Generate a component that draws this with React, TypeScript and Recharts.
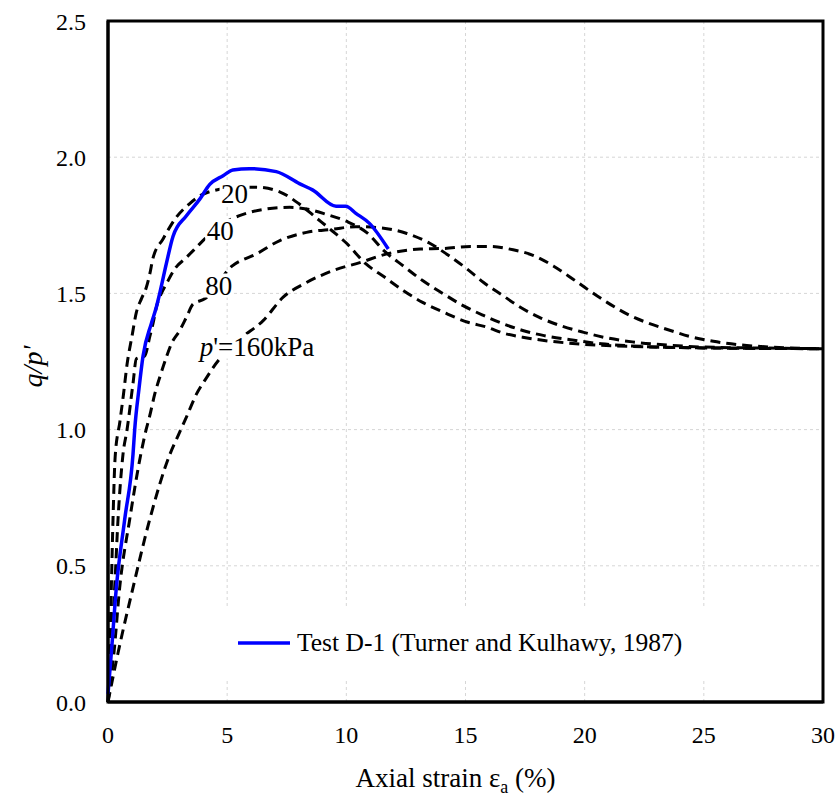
import React from 'react';
import {
  LineChart,
  Line,
  XAxis,
  YAxis,
  CartesianGrid,
  Legend,
  ReferenceArea,
  ReferenceDot,
} from 'recharts';

// axis ticks
const xTicks = [0, 5, 10, 15, 20, 25, 30];
const yTicks = [0, 0.5, 1.0, 1.5, 2.0, 2.5];

// Test D-1 (Turner and Kulhawy, 1987)
const testStrain = [0, 0.14, 0.35, 0.7, 1.05, 1.12, 1.3, 1.47, 1.82, 2.03, 2.17, 2.45, 2.73, 3.29, 3.85, 4.27, 4.83, 5.24, 5.94, 7.06, 8.03, 8.58, 9.57, 9.98, 10.4, 10.96, 11.76];
const testQ = [0.03, 0.18, 0.42, 0.67, 0.91, 1.0, 1.15, 1.27, 1.39, 1.45, 1.5, 1.61, 1.71, 1.785, 1.846, 1.9, 1.932, 1.953, 1.958, 1.947, 1.903, 1.88, 1.82, 1.82, 1.794, 1.758, 1.663];

// model, p' = 20 kPa
const strain20 = [0, 0.07, 0.14, 0.21, 0.3, 0.5, 0.65, 0.8, 1.0, 1.19, 1.4, 1.6, 1.75, 1.89, 2.31, 2.87, 3.43, 3.85, 4.41, 5.2, 6.2, 7.2, 8.0, 8.7, 9.4, 10.0, 10.8, 11.6, 12.4, 13.2, 14.1, 15.1, 15.9, 16.6, 17.4, 18.5, 20, 22, 25, 30];
const q20 = [0, 0.18, 0.42, 0.67, 0.9, 1.03, 1.13, 1.24, 1.34, 1.43, 1.48, 1.52, 1.57, 1.63, 1.7, 1.78, 1.83, 1.858, 1.877, 1.886, 1.89, 1.873, 1.83, 1.78, 1.73, 1.685, 1.61, 1.56, 1.51, 1.467, 1.43, 1.394, 1.376, 1.354, 1.339, 1.325, 1.313, 1.305, 1.3, 1.297];

// model, p' = 40 kPa
const strain40 = [0, 0.12, 0.28, 0.42, 0.63, 0.8, 1.05, 1.19, 1.54, 1.75, 1.89, 2.03, 2.24, 2.45, 2.8, 3.29, 3.71, 4.06, 4.9, 5.67, 6.65, 7.63, 8.33, 9.17, 10.0, 10.9, 11.6, 12.4, 13.2, 14.08, 14.9, 15.76, 16.6, 17.4, 18.3, 19.4, 20.7, 22.5, 25, 30];
const q40 = [0, 0.18, 0.42, 0.67, 0.91, 1.0, 1.17, 1.26, 1.27, 1.34, 1.39, 1.45, 1.5, 1.535, 1.59, 1.632, 1.669, 1.7, 1.76, 1.79, 1.81, 1.816, 1.81, 1.79, 1.765, 1.72, 1.655, 1.6, 1.547, 1.498, 1.455, 1.419, 1.388, 1.364, 1.345, 1.33, 1.315, 1.305, 1.3, 1.297];

// model, p' = 80 kPa
const strain80 = [0, 0.25, 0.49, 0.91, 1.4, 1.6, 1.75, 1.96, 2.2, 2.45, 2.66, 3.01, 3.29, 3.57, 4.06, 5.2, 6.23, 7.21, 8.33, 9.45, 10.4, 11.28, 12.54, 13.5, 14.2, 15.06, 15.76, 16.6, 17.3, 18.1, 18.97, 19.96, 20.8, 22, 23.5, 25, 27, 30];
const q80 = [0, 0.18, 0.42, 0.67, 0.92, 1.0, 1.05, 1.13, 1.2, 1.266, 1.315, 1.364, 1.412, 1.461, 1.48, 1.6, 1.645, 1.694, 1.724, 1.736, 1.745, 1.742, 1.72, 1.684, 1.645, 1.59, 1.54, 1.49, 1.449, 1.412, 1.382, 1.357, 1.339, 1.322, 1.31, 1.303, 1.3, 1.297];

// model, p' = 160 kPa
const strain160 = [0, 0.42, 1.05, 1.75, 2.6, 2.9, 3.29, 3.71, 4.13, 4.69, 4.97, 5.5, 6.51, 7.35, 8.33, 9.45, 10.6, 11.7, 13.1, 14.08, 15.2, 16.04, 17.0, 17.86, 18.7, 19.5, 20.2, 20.94, 21.9, 22.76, 23.6, 24.4, 25.4, 26.4, 27.4, 28.5, 30];
const q160 = [0, 0.18, 0.42, 0.67, 0.91, 0.97, 1.046, 1.13, 1.19, 1.26, 1.284, 1.33, 1.4, 1.486, 1.54, 1.584, 1.614, 1.645, 1.663, 1.665, 1.672, 1.672, 1.66, 1.639, 1.6, 1.553, 1.51, 1.467, 1.419, 1.388, 1.364, 1.342, 1.324, 1.312, 1.305, 1.3, 1.297];

const toPoints = (xs: number[], ys: number[]) => xs.map((x, i) => ({ x, y: ys[i] }));

const FONT = "'Liberation Serif', 'Times New Roman', serif";

const XTick = (props: any) => {
  const { x, y, payload } = props;
  return (
    <text x={x} y={y} dy="0.71em" textAnchor="middle" fontFamily={FONT} fontSize={24} fill="#000">
      {payload.value}
    </text>
  );
};

const YTick = (props: any) => {
  const { x, y, payload } = props;
  return (
    <text x={x} y={y} dy="0.355em" textAnchor="end" fontFamily={FONT} fontSize={24} fill="#000">
      {Number(payload.value).toFixed(1)}
    </text>
  );
};

const XTitle = (props: any) => {
  const { viewBox } = props;
  const cx = viewBox.x + viewBox.width / 2 - 10;
  return (
    <text x={cx} y={viewBox.y + 85} textAnchor="middle" fontFamily={FONT} fontSize={27} fill="#000">
      Axial strain ε
      <tspan fontSize={18} dy={6}>a</tspan>
      <tspan dy={-6}> (%)</tspan>
    </text>
  );
};

const YTitle = (props: any) => {
  const { viewBox } = props;
  const cx = 32;
  const cy = viewBox.y + viewBox.height / 2 + 5;
  return (
    <text
      x={cx}
      y={cy}
      transform={`rotate(-90, ${cx}, ${cy})`}
      textAnchor="middle"
      dominantBaseline="central"
      fontFamily={FONT}
      fontSize={28}
      fontStyle="italic"
      fill="#000"
    >
      q/p'
    </text>
  );
};

// white box + text placed on a data point
const tag = (text: string, w: number) => (props: any) => {
  const { viewBox } = props;
  const cx = viewBox.x + viewBox.width / 2;
  const cy = viewBox.y + viewBox.height / 2;
  return (
    <g>
      <rect x={cx - w / 2} y={cy - 12} width={w} height={24} fill="#fff" />
      <text x={cx} y={cy} textAnchor="middle" dominantBaseline="central" fontFamily={FONT} fontSize={27} fill="#000">
        {text}
      </text>
    </g>
  );
};

const pTag = (props: any) => {
  const { viewBox } = props;
  const x = viewBox.x;
  const cy = viewBox.y;
  return (
    <g>
      <rect x={x - 2} y={cy - 12} width={124} height={24} fill="#fff" />
      <text x={x} y={cy} dominantBaseline="central" fontFamily={FONT} fontSize={27} fill="#000">
        <tspan fontStyle="italic">p</tspan>'=160kPa
      </text>
    </g>
  );
};

const renderLegend = () => (
  <div
    style={{
      display: 'flex',
      alignItems: 'center',
      height: '100%',
      paddingLeft: 16,
      fontFamily: FONT,
      fontSize: 25.5,
      color: '#000',
    }}
  >
    <svg width={52} height={6} style={{ marginRight: 7 }}>
      <line x1={0} y1={3} x2={52} y2={3} stroke="#0000ff" strokeWidth={3.5} />
    </svg>
    <span>Test D-1 (Turner and Kulhawy, 1987)</span>
  </div>
);

const dashed = { stroke: '#000', strokeWidth: 3, strokeDasharray: '10 6' };

export default function App() {
  return (
    <div style={{ width: 840, height: 798, background: '#fff', fontFamily: FONT }}>
      <style>{'body{margin:0}'}</style>
      <LineChart width={840} height={798} margin={{ top: 21, right: 17, bottom: 0, left: 0 }}>
        <CartesianGrid strokeDasharray="3 3" stroke="#d6d6d6" />
        <XAxis
          type="number"
          dataKey="x"
          domain={[0, 30]}
          ticks={xTicks}
          height={96}
          tickSize={0}
          tickMargin={24}
          axisLine={{ stroke: '#000', strokeWidth: 3 }}
          tick={<XTick />}
          label={{ content: XTitle }}
        />
        <YAxis
          type="number"
          domain={[0, 2.5]}
          ticks={yTicks}
          width={108}
          tickSize={0}
          tickMargin={22}
          axisLine={{ stroke: '#000', strokeWidth: 3 }}
          tick={<YTick />}
          label={{ content: YTitle }}
        />
        <ReferenceArea x1={0} x2={30} y1={0} y2={2.5} fill="none" stroke="#000" strokeWidth={3} />
        <Legend
          layout="vertical"
          align="center"
          verticalAlign="middle"
          wrapperStyle={{ top: 608, left: 222, width: 490, height: 70, background: '#fff' }}
          content={renderLegend}
        />
        <Line data={toPoints(strain160, q160)} dataKey="y" type="monotone" dot={false} {...dashed} isAnimationActive={false} legendType="none" />
        <Line data={toPoints(strain80, q80)} dataKey="y" type="monotone" dot={false} {...dashed} isAnimationActive={false} legendType="none" />
        <Line data={toPoints(strain40, q40)} dataKey="y" type="monotone" dot={false} {...dashed} isAnimationActive={false} legendType="none" />
        <Line data={toPoints(strain20, q20)} dataKey="y" type="monotone" dot={false} {...dashed} isAnimationActive={false} legendType="none" />
        <Line
          data={toPoints(testStrain, testQ)}
          dataKey="y"
          name="Test D-1 (Turner and Kulhawy, 1987)"
          type="monotone"
          dot={false}
          stroke="#0000ff"
          strokeWidth={3.5}
          isAnimationActive={false}
        />
        <ReferenceDot x={5.31} y={1.866} r={0} stroke="none" fill="none" label={tag('20', 30)} />
        <ReferenceDot x={4.71} y={1.73} r={0} stroke="none" fill="none" label={tag('40', 30)} />
        <ReferenceDot x={4.65} y={1.529} r={0} stroke="none" fill="none" label={tag('80', 30)} />
        <ReferenceDot x={3.85} y={1.305} r={0} stroke="none" fill="none" label={pTag} />
      </LineChart>
    </div>
  );
}
